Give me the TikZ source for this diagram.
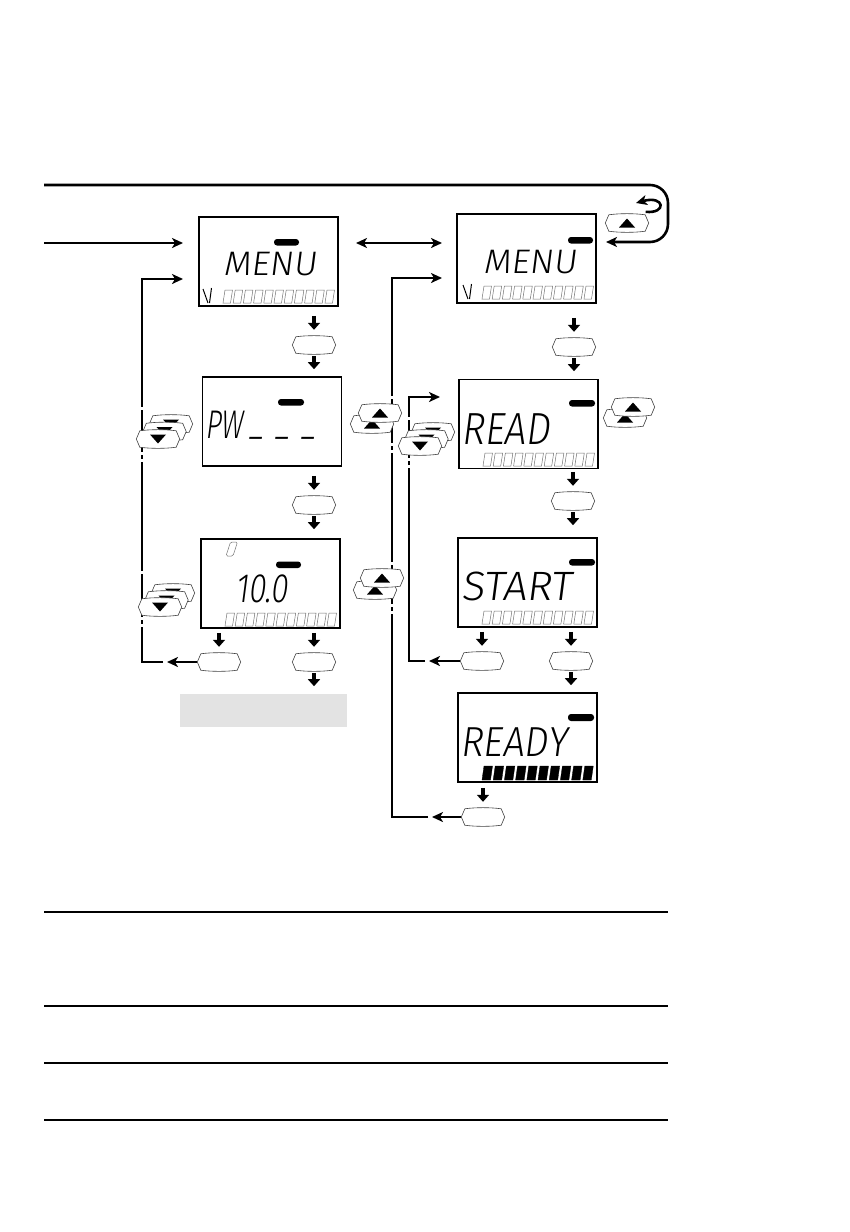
\documentclass[tikz,border=0pt]{standalone}
\usepackage{fontspec}
\newfontfamily\lcdf{Fira Sans Light}
\usetikzlibrary{arrows.meta}
\newcommand\lensbtn[3][]{%
  \node[btnbox] (#2) at (#3) {};
  \filldraw[btnline,#1] (#2.west) -- ([xshift=3.5pt]#2.north west)
    .. controls ([xshift=-8pt,yshift=1.5pt]#2.north) and ([xshift=8pt,yshift=1.5pt]#2.north) .. ([xshift=-3.5pt]#2.north east)
    -- (#2.east) -- ([xshift=-3.5pt]#2.south east)
    .. controls ([xshift=8pt,yshift=-1.5pt]#2.south) and ([xshift=-8pt,yshift=-1.5pt]#2.south) .. ([xshift=3.5pt]#2.south west) -- cycle;}
\newcommand\triup[1]{\fill ([xshift=-8pt,yshift=-4.5pt]#1.center) -- ([xshift=8pt,yshift=-4.5pt]#1.center) -- ([yshift=4.5pt]#1.center) -- cycle;}
\newcommand\tridn[1]{\fill ([xshift=-8pt,yshift=4.5pt]#1.center) -- ([xshift=8pt,yshift=4.5pt]#1.center) -- ([yshift=-4.5pt]#1.center) -- cycle;}
\newcommand\dnpair[1]{%
  \draw[dn] ([yshift=21pt]#1.north) -- ([yshift=7pt]#1.north);}
\newcommand\dnbelow[1]{%
  \draw[dn] ([yshift=-3pt]#1.south) -- ([yshift=-16pt]#1.south);}
% #1 x0, #2 y bottom, #3 count, #4 pitch, #5 width, #6 height, #7 style
\newcommand\segrow[7]{\foreach \i in {1,...,#3}{\pgfmathsetmacro\xa{#1+(\i-1)*#4}\draw[#7] (\xa,#2) -- ++(#5,0) -- ++(2,-#6) -- ++(-#5,0) -- cycle;}}
\begin{document}
\begin{tikzpicture}[x=1pt,y=-1pt,
 lcd/.style={draw=black, line width=1.1pt, inner sep=0, minimum width=139pt, minimum height=89pt},
 conn/.style={line width=2.6pt},
 arr/.style={conn,-{Stealth[length=11pt,width=10pt,inset=3pt]}},
 darr/.style={conn,{Stealth[length=11pt,width=10pt,inset=3pt]}-{Stealth[length=11pt,width=10pt,inset=3pt]}},
 dn/.style={line width=3.2pt,-{Triangle[length=7pt,width=12pt]}},
 btnbox/.style={rectangle, draw=none, inner sep=0, minimum width=43pt, minimum height=16pt},
 btnline/.style={draw=black!75, line width=0.6pt, fill=white},
 segoff/.style={draw=black!55, line width=0.5pt},
 segon/.style={draw=black, fill=black, line width=0.3pt},
 blob/.style={fill=black, rounded corners=3pt},
 lcdtxt/.style={inner sep=0, anchor=base west, xslant=0.13},
 whitegap/.style={fill=white},
 hrule2/.style={line width=1.2pt}
]
\useasboundingbox (0,0) rectangle (850,1232);

% ---------- LCD boxes ----------
\node[lcd] (m1) at (268.5,261.5) {};
\node[lcd] (m2) at (526.5,258.5) {};
\node[lcd] (pw) at (272,421.5) {};
\node[lcd] (val) at (270.5,583.5) {};
\node[lcd] (rd) at (528.5,424) {};
\node[lcd] (st) at (527.5,582.5) {};
\node[lcd] (ry) at (527.5,737.5) {};

% blobs
\fill[blob] (274,239) rectangle (299,245.5);
\fill[blob] (568,237) rectangle (593,243.5);
\fill[blob] (278,399) rectangle (304,405.5);
\fill[blob] (276,561.5) rectangle (301,568);
\fill[blob] (569,400) rectangle (595,406.5);
\fill[blob] (569,559) rectangle (595,565.5);
\fill[blob] (568,714) rectangle (594,721);

% texts
\node[lcdtxt, xscale=1.05, font=\lcdf\fontsize{34pt}{34pt}\selectfont] (tm1) at (223,275) {MENU};
\node[lcdtxt, xscale=1.05, font=\lcdf\fontsize{34pt}{34pt}\selectfont] (tm2) at (483,273) {MENU};
\node[lcdtxt, xscale=0.68, font=\lcdf\fontsize{40pt}{40pt}\selectfont] (tpw) at (205,438) {PW\hspace{10pt}\raisebox{4pt}{\_}\hspace{17pt}\raisebox{4pt}{\_}\hspace{17pt}\raisebox{4pt}{\_}};
\node[lcdtxt, xscale=0.76, font=\lcdf\fontsize{41pt}{41pt}\selectfont] (tval) at (235,602) {10.0};
\node[lcdtxt, xscale=0.86, font=\lcdf\fontsize{45pt}{45pt}\selectfont] (trd) at (461,444) {READ};
\node[lcdtxt, xscale=1.04, font=\lcdf\fontsize{41pt}{41pt}\selectfont] (tst) at (461,600) {START};
\node[lcdtxt, xscale=0.91, font=\lcdf\fontsize{42pt}{42pt}\selectfont] (try) at (460,756) {READY};

% V symbols
\draw[line width=1pt] (203,289) -- (208,303) (211.5,288) -- (209.5,303);
\draw[line width=1pt] (463,285) -- (468,299) (471.5,284) -- (469.5,299);
% small 0 digit
\draw[segoff, rounded corners=1.5pt] (226,556) -- (233,556) -- (237.5,542) -- (230.5,542) -- cycle;

% segment rows
\segrow{223}{303}{11}{10.2}{7.5}{13}{segoff}
\segrow{482}{299}{11}{10.2}{7.5}{13}{segoff}
\segrow{225}{626}{11}{10.2}{7.5}{13}{segoff}
\segrow{483}{466}{11}{10.2}{7.5}{13}{segoff}
\segrow{482}{624}{11}{10.2}{7.5}{13}{segoff}
\segrow{482}{780}{10}{11.2}{8.5}{14}{segon}

% ---------- connectors ----------
\coordinate (topL) at (44,185);
\coordinate (loopEnd) at (606,242);
\draw[arr, rounded corners=18pt] (topL) -- (668,185) -- (668,242) -- (loopEnd);

\coordinate (inL) at (44,243);
\coordinate (inT) at (183,243);
\draw[arr] (inL) -- (inT);

\coordinate (dA) at (356,243);
\coordinate (dB) at (442,243);
\draw[darr] (dA) -- (dB);

% single buttons
\lensbtn{b1}{314,345}
\lensbtn{b2}{314,505}
\lensbtn{bL}{219,662}
\lensbtn{bR}{314,662}
\lensbtn{c1}{574,347}
\lensbtn{c2}{573,501}
\lensbtn{cL}{482,661}
\lensbtn{cR}{571,661}
\lensbtn{cY}{483,817}
\lensbtn{bT}{627,223}
\triup{bT}

\dnpair{b1} \dnbelow{b1}
\dnpair{b2} \dnbelow{b2}
\dnpair{bL} \dnpair{bR} \dnbelow{bR}
\dnpair{c1} \dnbelow{c1}
\dnpair{c2} \dnbelow{c2}
\dnpair{cL} \dnpair{cR} \dnbelow{cR}
\dnpair{cY}

% loop arrow around the top-right button
\draw[arr] ([xshift=-3pt,yshift=3pt]bT.north east) .. controls (667,214) and (665,195) .. (636,203);

% left return line
\coordinate (lA) at (167,662);
\coordinate (lB) at (183,279);
\draw[arr] (bL.west) -- (lA);
\draw[arr] (163,662) -- (142,662) -- (142,279) -- (lB);

% right return lines
\coordinate (rA) at (432,817);
\coordinate (rB) at (442,278);
\draw[arr] (cY.west) -- (rA);
\draw[arr] (428,817) -- (392,817) -- (392,278) -- (rB);

\coordinate (sA) at (429,661);
\coordinate (sB) at (440,397);
\draw[arr] (cL.west) -- (sA);
\draw[arr] (425,661) -- (409,661) -- (409,397) -- (sB);

% gaps in the vertical lines near button stacks
\foreach \y in {407,452,459,571,617,624} \fill[whitegap] (139,\y) rectangle (145,{\y+3});
\foreach \y in {396,443,450,562,604,611} \fill[whitegap] (389,\y) rectangle (395,{\y+3});
\foreach \y in {417,458,465} \fill[whitegap] (406,\y) rectangle (412,{\y+3});

% ---------- button stacks ----------
% left of PW (down)
\lensbtn{sA3}{171,424} \tridn{sA3}
\lensbtn{sA2}{164.5,431.5} \tridn{sA2}
\lensbtn{sA1}{158,439} \tridn{sA1}
% left of 10.0 (down)
\lensbtn{sB3}{173,593} \tridn{sB3}
\lensbtn{sB2}{166.5,600} \tridn{sB2}
\lensbtn{sB1}{160,607} \tridn{sB1}
% left of READ (up)
\lensbtn{sC2}{372,424} \triup{sC2}
\lensbtn{sC1}{380,413} \triup{sC1}
% left of START (up)
\lensbtn{sD2}{375,590} \triup{sD2}
\lensbtn{sD1}{382,578} \triup{sD1}
% right of READ (up)
\lensbtn{sE2}{625,418} \triup{sE2}
\lensbtn{sE1}{633,407} \triup{sE1}
% left of READ (down)
\lensbtn{sF3}{433,432} \tridn{sF3}
\lensbtn{sF2}{426.5,439} \tridn{sF2}
\lensbtn{sF1}{420,446} \tridn{sF1}

% gray note box
\node[fill=black!11, inner sep=0, minimum width=167pt, minimum height=33pt] (note) at (263.5,710.5) {};

% bottom rules
\draw[hrule2] (44,912) -- (668,912);
\draw[hrule2] (44,1006) -- (668,1006);
\draw[hrule2] (44,1063) -- (668,1063);
\draw[hrule2] (44,1120) -- (668,1120);
\end{tikzpicture}
\end{document}
